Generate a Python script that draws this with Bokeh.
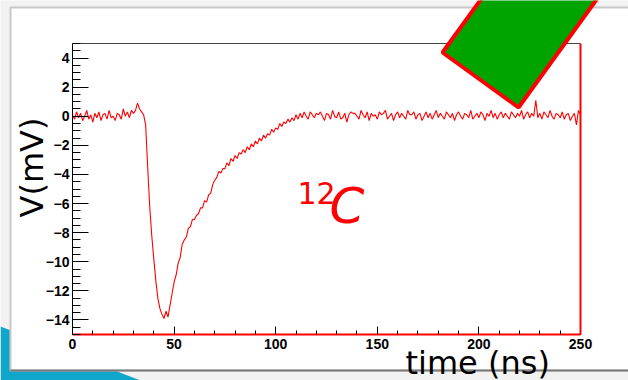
import math
from bokeh.plotting import figure
from bokeh.models import (FixedTicker, LinearAxis, Label, PolyAnnotation,
                          CustomJSTickFormatter, Range1d)
from bokeh.embed import file_html
from bokeh.resources import INLINE

# ---- data ----
time_ns = list(range(0, 251))
voltage_mv = [
    0.1, -0.2, 0.3, -0.1, 0.2, -0.3, 0.0, 0.4, -0.2, 0.1,
    -0.4, 0.2, -0.1, 0.3, -0.3, 0.1, 0.2, -0.2, 0.4, -0.1,
    0.0, -0.3, 0.2, 0.1, -0.2, 0.5, 0.0, 0.3, -0.1, 0.4,
    0.2, 0.4, 0.9, 0.5, 0.3, 0.1, -0.6, -3.5, -6.2, -8.2,
    -9.8, -11.3, -12.5, -13.2, -13.6, -13.9, -13.4, -13.8, -13.0, -12.2,
    -11.4, -10.9, -10.1, -9.7, -8.8, -8.5, -8.3, -7.7, -7.6, -7.1,
    -7.1, -6.8, -6.7, -6.3, -6.3, -5.8, -5.9, -5.4, -5.3, -4.7,
    -4.4, -4.2, -3.8, -3.9, -3.6, -3.6, -3.2, -3.4, -2.9, -3.1,
    -2.7, -2.9, -2.5, -2.6, -2.3, -2.5, -2.1, -2.3, -1.9, -2.1,
    -1.7, -1.9, -1.5, -1.7, -1.3, -1.5, -1.2, -1.3, -0.9, -1.1,
    -0.8, -0.9, -0.5, -0.7, -0.4, -0.5, -0.2, -0.4, -0.1, -0.3,
    0.1, -0.2, 0.2, -0.1, 0.3, 0.0, -0.2, 0.3, 0.1, -0.1,
    0.2, 0.1, 0.3, 0.0, -0.3, 0.2, 0.1, -0.2, 0.4, 0.0,
    -0.1, 0.3, -0.2, -0.1, 0.2, -0.4, 0.1, 0.3, 0.2, 0.2,
    0.0, -0.2, 0.4, 0.1, -0.1, 0.3, -0.3, 0.2, 0.0, 0.1,
    -0.2, 0.3, 0.1, 0.2, 0.4, -0.2, 0.0, 0.2, -0.3, 0.1,
    0.3, -0.1, 0.2, 0.0, -0.2, 0.4, 0.1, 0.1, 0.3, -0.2,
    0.1, 0.2, -0.3, 0.0, 0.3, -0.1, 0.2, -0.2, 0.1, 0.4,
    -0.1, 0.2, 0.0, -0.2, 0.3, 0.1, -0.1, 0.2, -0.3, 0.1,
    0.3, 0.0, -0.2, 0.2, 0.1, -0.1, 0.4, -0.2, 0.0, 0.2,
    -0.1, 0.3, 0.1, -0.3, 0.2, 0.0, 0.4, -0.1, 0.2, -0.2,
    0.1, 0.3, -0.1, 0.2, 0.0, -0.2, 0.3, 0.1, -0.1, 0.2,
    0.0, 0.4, -0.2, 0.1, 0.3, -0.1, 0.2, 0.0, 1.1, -0.1,
    0.2, -0.2, 0.3, 0.1, -0.1, 0.4, 0.0, -0.2, 0.2, 0.1,
    -0.1, 0.3, -0.2, 0.1, 0.2, -0.3, 0.0, 0.2, -0.6, 0.4,
    0.1,
]
x_lo, x_hi = 0, 250
y_lo, y_hi = -15, 5
x_major = [0, 50, 100, 150, 200, 250]
x_minor = list(range(0, 251, 10))
y_major = [-14, -12, -10, -8, -6, -4, -2, 0, 2, 4]
y_minor = [v / 2 for v in range(-30, 11)]
x_label = "time (ns)"
y_label = "V(mV)"
isotope_mass = "12"
isotope_symbol = "C"

# ---- layout in canvas pixels ----
W, H = 628, 380
FL, FR, FT, FB = 72, 580, 43, 334          # data frame box on the canvas
xs = (FR - FL) / (x_hi - x_lo)
ys = (FB - FT) / (y_hi - y_lo)
x_range = Range1d(x_lo - FL / xs, x_hi + (W - FR) / xs)
y_range = Range1d(y_lo - (H - FB) / ys, y_hi + FT / ys)

p = figure(width=W, height=H, x_range=x_range, y_range=y_range,
           output_backend="svg", toolbar_location=None,
           min_border_left=0, min_border_right=0,
           min_border_top=0, min_border_bottom=0)
p.title.visible = False
p.outline_line_color = None
p.grid.visible = False
p.background_fill_color = "#f2f2f2"
p.border_fill_color = "#f2f2f2"

def sx(px):
    return px
def sy(py):
    return H - py

# slide background pieces (underlay)
blue_pts = [(0, 326), (140, 380), (0, 380)]
p.add_layout(PolyAnnotation(xs=[sx(a) for a, b in blue_pts], ys=[sy(b) for a, b in blue_pts],
                            xs_units="screen", ys_units="screen", level="underlay",
                            fill_color="#10a6cc", fill_alpha=1, line_color=None))
box_pts = [(10, 7), (10, 370), (700, 370), (700, 7)]
p.add_layout(PolyAnnotation(xs=[sx(a) for a, b in box_pts], ys=[sy(b) for a, b in box_pts],
                            xs_units="screen", ys_units="screen", level="underlay",
                            fill_color="white", fill_alpha=1,
                            line_color="#c8c8c8", line_alpha=1, line_width=2))
bot_pts = [(10, 370), (700, 370)]
p.add_layout(PolyAnnotation(xs=[sx(a) for a, b in bot_pts], ys=[sy(b) for a, b in bot_pts],
                            xs_units="screen", ys_units="screen", level="underlay",
                            fill_color=None, line_color="#7a7a7a", line_alpha=1, line_width=2))

minus_fmt = "return tick.toString().replace('-', '\\u2212');"
label_font = dict(major_label_text_font="Liberation Sans",
                  major_label_text_font_style="bold",
                  major_label_text_font_size="14px",
                  major_label_text_color="black")

xa = p.xaxis[0]
xa.fixed_location = y_lo
xa.bounds = (x_lo, x_hi)
xa.ticker = FixedTicker(ticks=x_major, minor_ticks=x_minor)
xa.major_tick_in = 8
xa.major_tick_out = 0
xa.minor_tick_in = 4
xa.minor_tick_out = 0
xa.axis_line_color = "red"
xa.axis_line_width = 2
xa.major_tick_line_color = "black"
xa.minor_tick_line_color = "black"
xa.major_label_standoff = 4
for k, v in label_font.items():
    setattr(xa, k, v)

ya = p.yaxis[0]
ya.fixed_location = x_lo
ya.bounds = (y_lo, y_hi)
ya.ticker = FixedTicker(ticks=y_major, minor_ticks=y_minor)
ya.formatter = CustomJSTickFormatter(code=minus_fmt)
ya.major_tick_in = 16
ya.major_tick_out = 0
ya.minor_tick_in = 8
ya.minor_tick_out = 0
ya.axis_line_color = "black"
ya.major_tick_line_color = "black"
ya.minor_tick_line_color = "black"
ya.major_label_standoff = 3
for k, v in label_font.items():
    setattr(ya, k, v)

top_ax = LinearAxis(fixed_location=y_hi, bounds=(x_lo, x_hi), ticker=FixedTicker(ticks=[]),
                    major_tick_in=0, major_tick_out=0, minor_tick_in=0, minor_tick_out=0,
                    axis_line_color="#444444", axis_line_width=1)
p.add_layout(top_ax, "above")
right_ax = LinearAxis(fixed_location=x_hi, bounds=(y_lo, y_hi), ticker=FixedTicker(ticks=[]),
                      major_tick_in=0, major_tick_out=0, minor_tick_in=0, minor_tick_out=0,
                      axis_line_color="red", axis_line_width=2)
p.add_layout(right_ax, "right")

p.line(time_ns, voltage_mv, color="red", line_width=1.1)

# green tilted marker
green_pts = [(442, 52), (518, 107), (633, -52), (557, -107)]
p.add_layout(PolyAnnotation(xs=[sx(a) for a, b in green_pts], ys=[sy(b) for a, b in green_pts],
                            xs_units="screen", ys_units="screen",
                            fill_color="#00a400", fill_alpha=1,
                            line_color="#ff0000", line_alpha=1, line_width=4))

# texts (y positions tuned to the rendered baselines)
p.add_layout(Label(x=sx(297), y=sy(192), x_units="screen", y_units="screen",
                   text=isotope_mass, text_color="red", text_font="DejaVu Sans",
                   text_font_size="30px", text_align="left", text_baseline="alphabetic"))
p.add_layout(Label(x=sx(329), y=sy(205), x_units="screen", y_units="screen",
                   text=isotope_symbol, text_color="red", text_font="DejaVu Sans",
                   text_font_style="italic", text_font_size="50px",
                   text_align="left", text_baseline="alphabetic"))
p.add_layout(Label(x=sx(31), y=sy(167), x_units="screen", y_units="screen",
                   text=y_label, text_color="black", text_font="DejaVu Sans",
                   text_font_size="32px", angle=math.pi / 2,
                   text_align="center", text_baseline="middle"))
p.add_layout(Label(x=sx(405), y=sy(362), x_units="screen", y_units="screen",
                   text=x_label, text_color="black", text_font="DejaVu Sans",
                   text_font_size="32px", text_align="left", text_baseline="alphabetic"))

open("out.html", "w").write(file_html(p, INLINE))
